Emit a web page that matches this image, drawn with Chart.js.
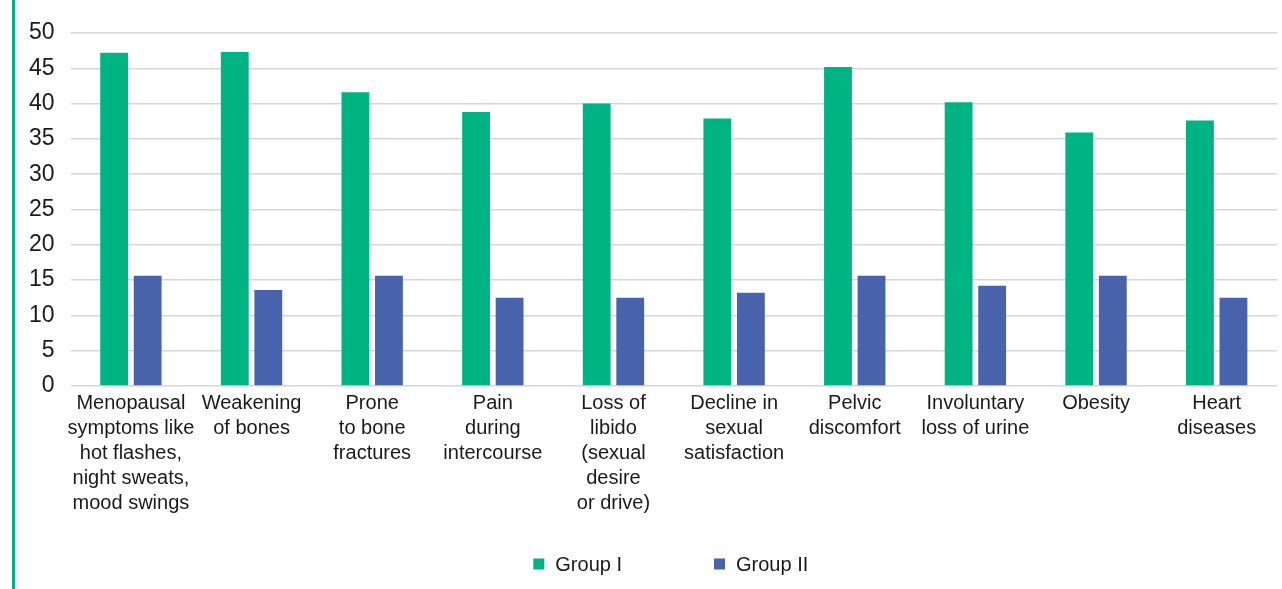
<!DOCTYPE html>
<html lang="en">

<head>
  <meta charset="UTF-8" />
  <meta name="viewport" content="width=device-width, initial-scale=1.0" />
  <title>Group I vs Group II</title>
  <script src="https://cdn.jsdelivr.net/npm/chart.js"></script>
  <style>
    html, body { margin: 0; padding: 0; background: #fff; }
    .wrap { position: relative; width: 1282px; height: 589px; }
    .rule { position: absolute; left: 12px; top: 0; bottom: 0; width: 3px; background: #00b383; }
  </style>
</head>

<body>
  <div class="wrap">
    <canvas id="symptomChart"></canvas>
    <div class="rule"></div>
  </div>

  <script>
    const categories = [
      ["Menopausal", "symptoms like", "hot flashes,", "night sweats,", "mood swings"],
      ["Weakening", "of bones"],
      ["Prone", "to bone", "fractures"],
      ["Pain", "during", "intercourse"],
      ["Loss of", "libido", "(sexual", "desire", "or drive)"],
      ["Decline in", "sexual", "satisfaction"],
      ["Pelvic", "discomfort"],
      ["Involuntary", "loss of urine"],
      ["Obesity"],
      ["Heart", "diseases"]
    ];
    const groupOne = [47.2, 47.3, 41.6, 38.8, 40.0, 37.9, 45.2, 40.2, 35.9, 37.6];
    const groupTwo = [15.6, 13.6, 15.6, 12.5, 12.5, 13.2, 15.6, 14.2, 15.6, 12.5];
    const yTicks = [0, 5, 10, 15, 20, 25, 30, 35, 40, 45, 50];

    const FONT = "'Liberation Sans', Arial, Helvetica, sans-serif";
    const TEXT = "#1a1a1a";

    // simple square-box legend under the plot, centred on the chart area
    const boxLegend = {
      id: "boxLegend",
      afterDraw(chart) {
        const ctx = chart.ctx;
        const area = chart.chartArea;
        const box = 11, gap = 11, itemGap = 92, y = 564;
        ctx.save();
        ctx.font = "20px " + FONT;
        const items = chart.data.datasets.map(ds => ({
          label: ds.label,
          color: ds.backgroundColor,
          w: box + gap + ctx.measureText(ds.label).width
        }));
        const total = items.reduce((s, it) => s + it.w, 0) + itemGap * (items.length - 1);
        let x = (area.left + area.right) / 2 - total / 2 - 3;
        ctx.textBaseline = "middle";
        ctx.textAlign = "left";
        items.forEach(it => {
          ctx.fillStyle = it.color;
          ctx.fillRect(x, y - box / 2, box, box);
          ctx.fillStyle = TEXT;
          ctx.fillText(it.label, x + box + gap, y + 1);
          x += it.w + itemGap;
        });
        ctx.restore();
      }
    };

    new Chart(document.getElementById("symptomChart"), {
      type: "bar",
      data: {
        labels: categories,
        datasets: [
          {
            label: "Group I",
            data: groupOne,
            backgroundColor: "#00b383",
            categoryPercentage: 0.556,
            barPercentage: 0.83
          },
          {
            label: "Group II",
            data: groupTwo,
            backgroundColor: "#4863ab",
            categoryPercentage: 0.556,
            barPercentage: 0.83
          }
        ]
      },
      options: {
        responsive: true,
        maintainAspectRatio: false,
        animation: false,
        layout: {
          padding: { left: 13, right: 5, top: 33, bottom: 68 }
        },
        plugins: {
          legend: { display: false },
          tooltip: { enabled: false }
        },
        scales: {
          x: {
            // wide first/last labels may hang past the plot edges
            afterFit: scale => {
              scale.paddingLeft = 0;
              scale.paddingRight = 0;
            },
            grid: { display: false, drawTicks: false },
            border: { display: false },
            ticks: {
              color: TEXT,
              padding: 5,
              maxRotation: 0,
              autoSkip: false,
              font: { family: FONT, size: 20, lineHeight: 1.25 }
            }
          },
          y: {
            min: 0,
            max: 50,
            afterBuildTicks: scale => {
              scale.ticks = yTicks.map(v => ({ value: v }));
            },
            grid: { color: "#d6d6d6", lineWidth: 1.5, drawTicks: false },
            border: { display: false },
            ticks: {
              color: TEXT,
              padding: 16,
              font: { family: FONT, size: 23 }
            }
          }
        }
      },
      plugins: [boxLegend]
    });
  </script>
</body>

</html>
